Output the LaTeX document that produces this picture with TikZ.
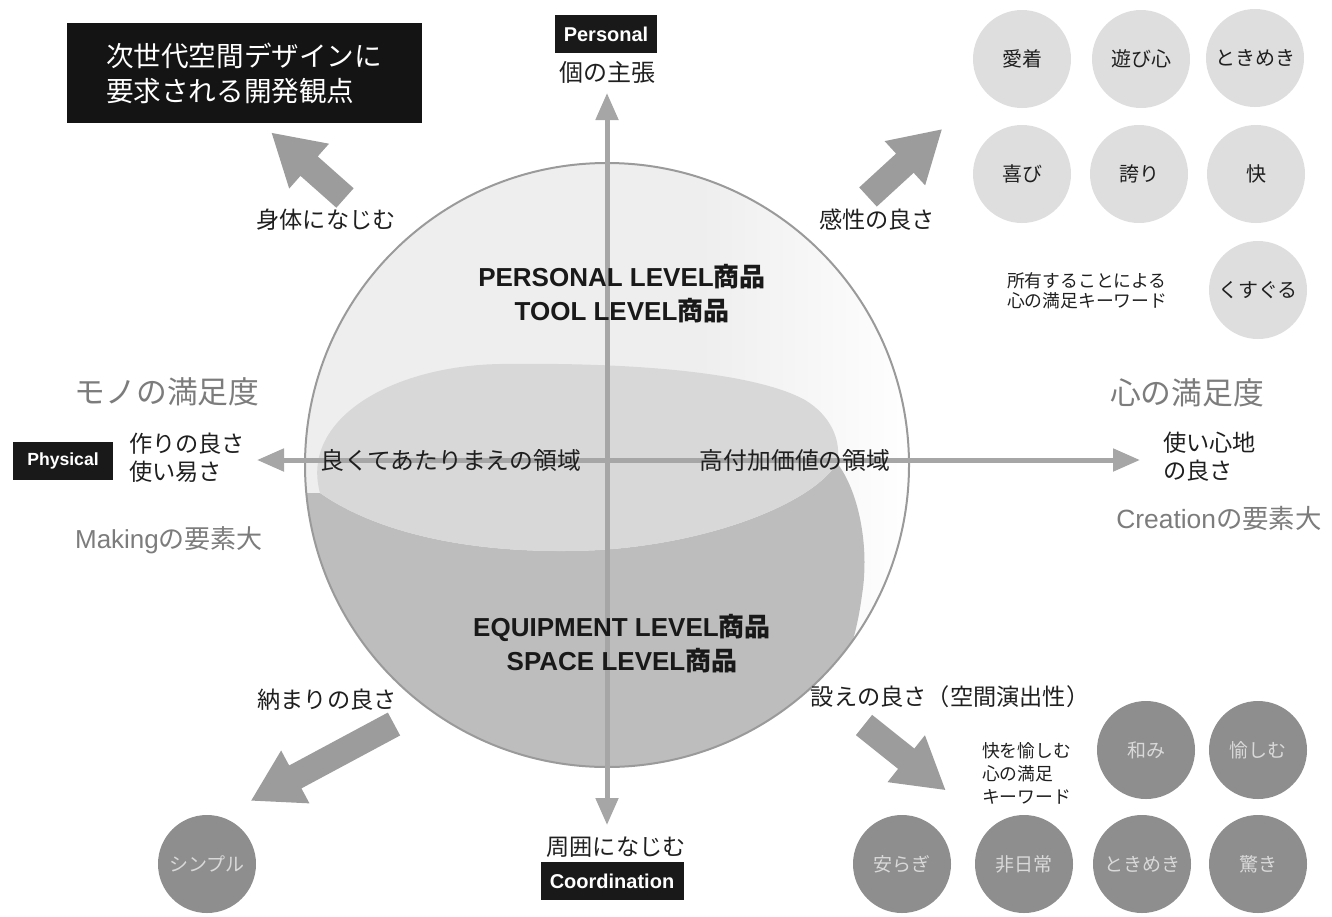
\documentclass[tikz,border=0pt]{standalone}
\usepackage{fontspec}
\setmainfont{Liberation Sans}
\newfontfamily\jp{Noto Sans CJK JP}
\usetikzlibrary{arrows.meta,calc}

\definecolor{axisgray}{HTML}{A6A6A6}
\definecolor{blockgray}{HTML}{9C9C9C}
\definecolor{lightzone}{HTML}{EEEEEE}
\definecolor{lenszone}{HTML}{D8D8D8}
\definecolor{darkzone}{HTML}{BDBDBD}
\definecolor{softdot}{HTML}{DEDEDE}
\definecolor{harddot}{HTML}{8E8E8E}
\definecolor{labelgray}{HTML}{7C7C7C}
\definecolor{ringgray}{HTML}{9A9A9A}

\newcommand{\blockarrow}[3]{%
  \begin{scope}[shift={(#1)}, rotate=#2]
    \fill[blockgray] (0,-13) -- ({#3-50},-13) -- ({#3-50},-30) -- (#3,0)
      -- ({#3-50},30) -- ({#3-50},13) -- (0,13) -- cycle;
  \end{scope}}

\begin{document}
\begin{tikzpicture}[x=0.5pt,y=-0.5pt,
  tag/.style={fill=black!90, text=white, font=\bfseries\fontsize{10}{12}\selectfont,
    inner sep=0pt, minimum height=19pt},
  jtext/.style={font=\jp\fontsize{11.6}{14}\selectfont, text=black!88},
  biggray/.style={font=\jp\fontsize{15.4}{18}\selectfont, text=labelgray},
  midgray/.style={font=\fontsize{13}{15}\selectfont, text=labelgray},
  softball/.style={circle, fill=softdot, minimum size=49pt, inner sep=0pt,
    font=\jp\fontsize{10}{12}\selectfont, text=black!88},
  hardball/.style={circle, fill=harddot, minimum size=49pt, inner sep=0pt,
    font=\jp\fontsize{9.5}{11}\selectfont, text=white!85!black},
  level/.style={font=\bfseries\fontsize{13}{17}\selectfont, align=center, text=black!90},
  axis/.style={draw=axisgray, line width=2.5pt,
    {Triangle[length=13.5pt,width=11pt]}-{Triangle[length=13.5pt,width=11pt]}},
  smallnote/.style={font=\jp\fontsize{8.9}{10}\selectfont, align=left, text=black!88}
]
\useasboundingbox (0,0) rectangle (1332,916);

% ---- central sphere ----
\coordinate (O) at (607,465);
\begin{scope}
  \clip (O) circle[radius=302];
  \fill[lightzone] (290,150) rectangle (700,790);
  \shade[left color=lightzone,right color=white] (700,150) rectangle (915,790);
  \fill[darkzone] (320,493) .. controls (380,535) and (480,556) .. (600,550)
    .. controls (720,542) and (815,500) .. (837,463)
    .. controls (858,490) and (870,545) .. (862,595)
    .. controls (858,625) and (852,645) .. (845,665)
    -- (900,950) -- (250,950) -- (250,493) -- cycle;
  \fill[lenszone] (320,493) .. controls (380,535) and (480,556) .. (600,550)
    .. controls (720,542) and (815,500) .. (837,463)
    .. controls (842,440) and (830,415) .. (805,400)
    .. controls (760,375) and (650,362) .. (500,364)
    .. controls (390,366) and (300,420) .. (320,493) -- cycle;
\end{scope}
\draw[ringgray, line width=1pt] (O) circle[radius=302];

% ---- axes ----
\coordinate (axW) at (257,460);
\coordinate (axE) at (1140,460);
\coordinate (axN) at (607,93);
\coordinate (axS) at (607,825);
\draw[axis] (axW) -- (axE);
\draw[axis] (axN) -- (axS);

% ---- block arrows ----
\blockarrow{345,198}{138.4}{98}
\blockarrow{868,197}{42.5}{100}
\blockarrow{394,724}{208.2}{162}
\blockarrow{864,725}{-38.6}{104}

% ---- title ----
\node[fill=black!92, text=white, minimum width=177.5pt, minimum height=50pt,
  align=left, font=\jp\fontsize{13.8}{17.5}\selectfont] (title) at (244,73)
  {次世代空間デザインに\\要求される開発観点};

% ---- axis tags ----
\node[tag, minimum width=51pt] (personal) at (606,34) {Personal};
\node[jtext, font=\jp\fontsize{12}{14}\selectfont] (kono) at (607,72) {個の主張};
\node[jtext] (shui) at (616,847) {周囲になじむ};
\node[tag, minimum width=71.5pt] (coord) at (612,881) {Coordination};
\node[tag, minimum width=50pt, font=\bfseries\fontsize{8.8}{10}\selectfont] (phys) at (63,461) {Physical};

% ---- left side ----
\node[biggray] (mono) at (167,392) {モノの満足度};
\node[jtext, anchor=west, align=left] (tsukuri) at (122,458) {作りの良さ\\使い易さ};
\node[midgray] (making) at (169,540) {Making{\jp の要素大}};

% ---- right side ----
\node[biggray] (kokoro) at (1187,393) {心の満足度};
\node[jtext, anchor=west, align=left] (tsukai) at (1156,457) {使い心地\\の良さ};
\node[midgray, font=\fontsize{13.2}{15}\selectfont] (creation) at (1219,518) {Creation{\jp の要素大}};

% ---- diagonal labels ----
\node[jtext] (shintai) at (326,220) {身体になじむ};
\node[jtext] (kansei) at (877,220) {感性の良さ};
\node[jtext] (osamari) at (327,700) {納まりの良さ};
\node[jtext] (shitsurae) at (950,697) {設えの良さ（空間演出性）};

% ---- sphere texts ----
\node[level] (upper) at (622,294) {PERSONAL LEVEL{\jp 商品}\\TOOL LEVEL{\jp 商品}};
\node[level] (lower) at (622,644) {EQUIPMENT LEVEL{\jp 商品}\\SPACE LEVEL{\jp 商品}};
\node[jtext, font=\jp\fontsize{11.9}{14}\selectfont] (atari) at (451,460) {良くてあたりまえの領域};
\node[jtext, font=\jp\fontsize{11.9}{14}\selectfont] (kofuka) at (795,460) {高付加価値の領域};

% ---- soft keyword balls ----
\node[softball] (b1) at (1022,59) {愛着};
\node[softball] (b2) at (1141,59) {遊び心};
\node[softball] (b3) at (1255,58) {ときめき};
\node[softball] (b4) at (1022,174) {喜び};
\node[softball] (b5) at (1139,174) {誇り};
\node[softball] (b6) at (1256,174) {快};
\node[softball] (b7) at (1258,290) {くすぐる};
\node[smallnote, anchor=west] (shoyu) at (1000,291) {所有することによる\\心の満足キーワード};

% ---- hard keyword balls ----
\node[hardball] (h1) at (1146,750) {和み};
\node[hardball] (h2) at (1258,750) {愉しむ};
\node[hardball] (h3) at (902,864) {安らぎ};
\node[hardball] (h4) at (1024,864) {非日常};
\node[hardball] (h5) at (1142,864) {ときめき};
\node[hardball] (h6) at (1258,864) {驚き};
\node[hardball] (h7) at (207,864) {シンプル};
\node[smallnote, anchor=west, font=\jp\fontsize{8.9}{11.5}\selectfont] (kai) at (975,773) {快を愉しむ\\心の満足\\キーワード};
\end{tikzpicture}
\end{document}
